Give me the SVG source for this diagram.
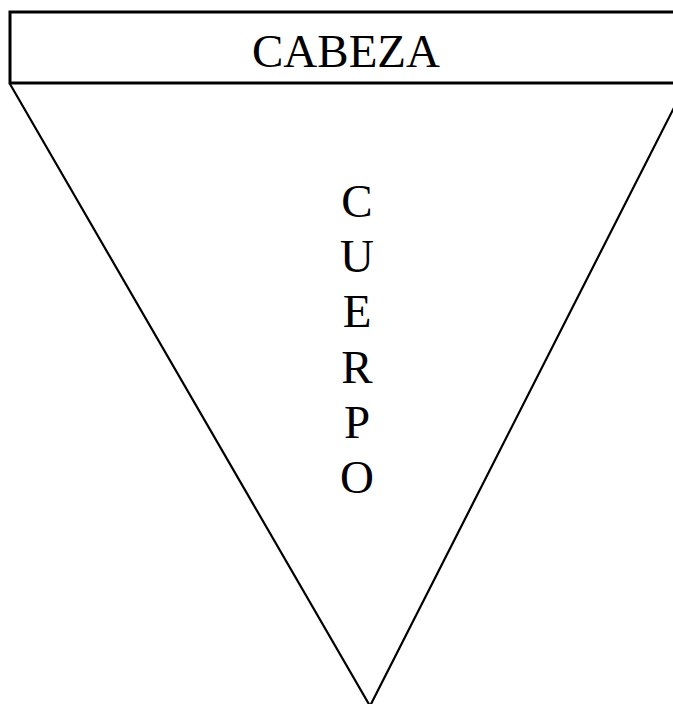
<svg xmlns="http://www.w3.org/2000/svg" width="673" height="704" viewBox="0 0 673 704">
<style>
.t{font-family:"Liberation Serif","Times New Roman",serif;font-size:47px;fill:#000;text-anchor:middle}
.s{fill:none;stroke:#000;stroke-width:3}
.l{fill:none;stroke:#000;stroke-width:2.2}
</style>
<rect width="673" height="704" fill="#fff"/>
<g id="cuerpo">
<polyline class="l" points="10,84 370,706 686,84"/>
<text class="t" x="357" y="217">C</text>
<text class="t" x="357" y="272">U</text>
<text class="t" x="357" y="327">E</text>
<text class="t" x="357" y="383">R</text>
<text class="t" x="357" y="438">P</text>
<text class="t" x="357" y="493">O</text>
</g>
<g id="cabeza">
<rect class="s" x="10" y="12" width="670" height="71"/>
<text class="t" x="346" y="67">CABEZA</text>
</g>
</svg>
